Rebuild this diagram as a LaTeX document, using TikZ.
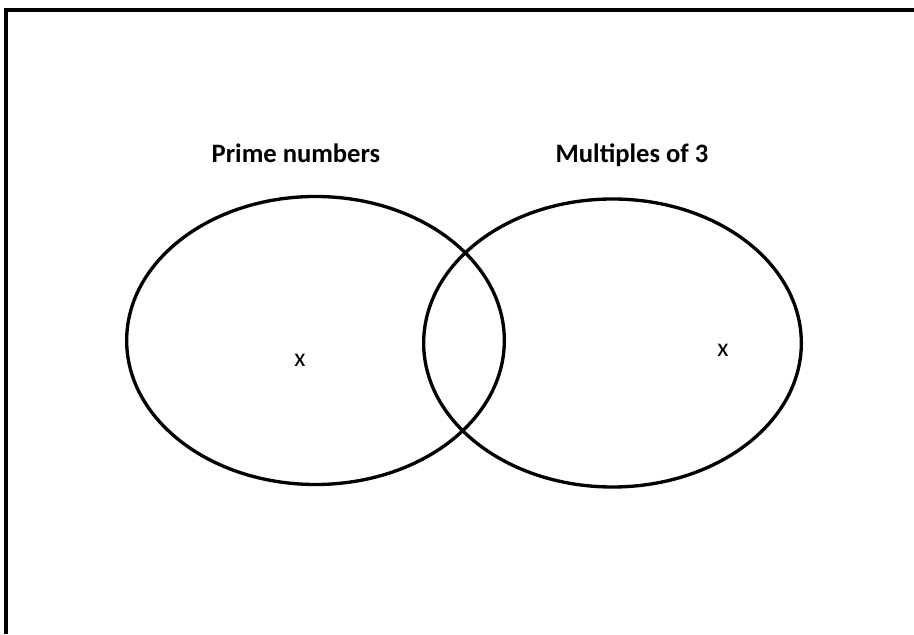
\documentclass[tikz,border=0pt]{standalone}
\usepackage{fontspec}
\setmainfont{Carlito}
\usepackage{tikz}
\usetikzlibrary{shapes.geometric, positioning}
\definecolor{ink}{RGB}{0, 0, 0}
\tikzset{
    font=\fontsize{22.7}{27}\selectfont,
    setring/.style={ellipse, draw=ink, line width=0.1cm, minimum width=11.33cm, minimum height=8.64cm, inner sep=0pt},
    setlabel/.style={font=\fontsize{22.7}{27}\selectfont\bfseries, color=ink, anchor=base, inner sep=0pt},
    member/.style={font=\fontsize{22}{26}\selectfont, color=ink, inner sep=0pt},
    frameline/.style={draw=ink, line width=0.12cm, line join=miter}
}
\begin{document}
\begin{tikzpicture}[x=0.03cm, y=0.03cm]

    \useasboundingbox (0,0) rectangle (914,634);

    % Frame (top and left edges only)
    \coordinate (fbot) at (5.5,0);
    \coordinate (fcorner) at (5.5,623.5);
    \coordinate (fright) at (914,623.5);
    \draw [frameline] (fbot) -- (fcorner) -- (fright);

    % Sets
    \node (prime) [setring] at (315.5,293.5) {};
    \node (mult)  [setring] at (612.5,291) {};

    % Set names
    \node (primename) [setlabel] at (296,471.3) {Prime numbers};
    \node (multname)  [setlabel] at (632,471.3) {Multiples of 3};

    % Members
    \node (xprime) [member] at (300,274) {x};
    \node (xmult)  [member] at (723,284) {x};

\end{tikzpicture}
\end{document}
